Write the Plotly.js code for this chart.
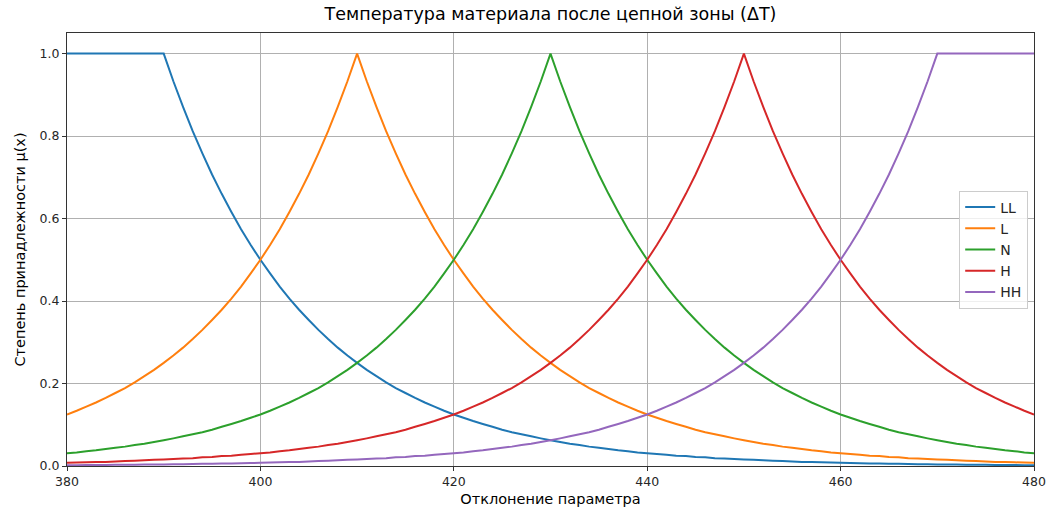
<!DOCTYPE html>
<html>
<head>
<meta charset="utf-8">
<script src="https://cdn.plot.ly/plotly-3.0.1.min.js"></script>
<style>html,body{margin:0;padding:0;background:#fff;}#chart{width:1051px;height:515px;}</style>
</head>
<body>
<div id="chart"></div>
<script>
// x positions (step 1)
const xValues = [380,381,382,383,384,385,386,387,388,389,390,391,392,393,394,395,396,397,398,399,
400,401,402,403,404,405,406,407,408,409,410,411,412,413,414,415,416,417,418,419,
420,421,422,423,424,425,426,427,428,429,430,431,432,433,434,435,436,437,438,439,
440,441,442,443,444,445,446,447,448,449,450,451,452,453,454,455,456,457,458,459,
460,461,462,463,464,465,466,467,468,469,470,471,472,473,474,475,476,477,478,479,480];

const seriesNames = ["LL","L","N","H","HH"];
const seriesColors = ["#1f77b4","#ff7f0e","#2ca02c","#d62728","#9467bd"];

const LL = [1,1,1,1,1,1,1,1,1,1,1,
0.933,0.871,0.812,0.758,0.707,0.660,0.616,0.574,0.536,0.5,
0.467,0.435,0.406,0.379,0.354,0.330,0.308,0.287,0.268,0.25,
0.233,0.218,0.203,0.189,0.177,0.165,0.154,0.144,0.134,0.125,
0.117,0.109,0.102,0.095,0.088,0.082,0.077,0.072,0.067,0.0625,
0.058,0.054,0.051,0.047,0.044,0.041,0.038,0.036,0.033,0.031,
0.029,0.027,0.025,0.024,0.022,0.021,0.019,0.018,0.017,0.016,
0.015,0.014,0.013,0.012,0.011,0.010,0.0096,0.009,0.0084,0.0078,
0.0073,0.0068,0.0063,0.0059,0.0055,0.0052,0.0048,0.0045,0.0042,0.0039,
0.0037,0.0034,0.0032,0.003,0.0028,0.0026,0.0024,0.0022,0.0021,0.002];

const L = [0.125,0.134,0.144,0.154,0.165,0.177,0.189,0.203,0.218,0.233,
0.25,0.268,0.287,0.308,0.330,0.354,0.379,0.406,0.435,0.467,
0.5,0.536,0.574,0.616,0.660,0.707,0.758,0.812,0.871,0.933,
1,
0.933,0.871,0.812,0.758,0.707,0.660,0.616,0.574,0.536,0.5,
0.467,0.435,0.406,0.379,0.354,0.330,0.308,0.287,0.268,0.25,
0.233,0.218,0.203,0.189,0.177,0.165,0.154,0.144,0.134,0.125,
0.117,0.109,0.102,0.095,0.088,0.082,0.077,0.072,0.067,0.0625,
0.058,0.054,0.051,0.047,0.044,0.041,0.038,0.036,0.033,0.031,
0.029,0.027,0.025,0.024,0.022,0.021,0.019,0.018,0.017,0.016,
0.015,0.014,0.013,0.012,0.011,0.010,0.0096,0.009,0.0084,0.0078];

const N = [0.031,0.033,0.036,0.038,0.041,0.044,0.047,0.051,0.054,0.058,
0.0625,0.067,0.072,0.077,0.082,0.088,0.095,0.102,0.109,0.117,
0.125,0.134,0.144,0.154,0.165,0.177,0.189,0.203,0.218,0.233,
0.25,0.268,0.287,0.308,0.330,0.354,0.379,0.406,0.435,0.467,
0.5,0.536,0.574,0.616,0.660,0.707,0.758,0.812,0.871,0.933,
1,
0.933,0.871,0.812,0.758,0.707,0.660,0.616,0.574,0.536,0.5,
0.467,0.435,0.406,0.379,0.354,0.330,0.308,0.287,0.268,0.25,
0.233,0.218,0.203,0.189,0.177,0.165,0.154,0.144,0.134,0.125,
0.117,0.109,0.102,0.095,0.088,0.082,0.077,0.072,0.067,0.0625,
0.058,0.054,0.051,0.047,0.044,0.041,0.038,0.036,0.033,0.031];

const H = [0.0078,0.0084,0.009,0.0096,0.010,0.011,0.012,0.013,0.014,0.015,
0.016,0.017,0.018,0.019,0.021,0.022,0.024,0.025,0.027,0.029,
0.031,0.033,0.036,0.038,0.041,0.044,0.047,0.051,0.054,0.058,
0.0625,0.067,0.072,0.077,0.082,0.088,0.095,0.102,0.109,0.117,
0.125,0.134,0.144,0.154,0.165,0.177,0.189,0.203,0.218,0.233,
0.25,0.268,0.287,0.308,0.330,0.354,0.379,0.406,0.435,0.467,
0.5,0.536,0.574,0.616,0.660,0.707,0.758,0.812,0.871,0.933,
1,
0.933,0.871,0.812,0.758,0.707,0.660,0.616,0.574,0.536,0.5,
0.467,0.435,0.406,0.379,0.354,0.330,0.308,0.287,0.268,0.25,
0.233,0.218,0.203,0.189,0.177,0.165,0.154,0.144,0.134,0.125];

const HH = [0.002,0.0021,0.0022,0.0024,0.0026,0.0028,0.003,0.0032,0.0034,0.0037,
0.0039,0.0042,0.0045,0.0048,0.0052,0.0055,0.0059,0.0063,0.0068,0.0073,
0.0078,0.0084,0.009,0.0096,0.010,0.011,0.012,0.013,0.014,0.015,
0.016,0.017,0.018,0.019,0.021,0.022,0.024,0.025,0.027,0.029,
0.031,0.033,0.036,0.038,0.041,0.044,0.047,0.051,0.054,0.058,
0.0625,0.067,0.072,0.077,0.082,0.088,0.095,0.102,0.109,0.117,
0.125,0.134,0.144,0.154,0.165,0.177,0.189,0.203,0.218,0.233,
0.25,0.268,0.287,0.308,0.330,0.354,0.379,0.406,0.435,0.467,
0.5,0.536,0.574,0.616,0.660,0.707,0.758,0.812,0.871,0.933,
1,1,1,1,1,1,1,1,1,1,1];

const xTicks = [380,400,420,440,460,480];
const yTicks = [0,0.2,0.4,0.6,0.8,1.0];
const yTickText = ["0.0","0.2","0.4","0.6","0.8","1.0"];

const seriesData = [LL,L,N,H,HH];
const traces = seriesData.map((ys,i)=>({
  x: xValues, y: ys, type:'scatter', mode:'lines', name: seriesNames[i],
  line:{color: seriesColors[i], width:2, simplify:false}
}));

const font = "DejaVu Sans, sans-serif";
const layout = {
  width:1051, height:515,
  margin:{l:67, r:17, t:33, b:49},
  paper_bgcolor:'#fff', plot_bgcolor:'#fff',
  font:{family:font, size:12, color:'#262626'},
  title:{text:'Температура материала после цепной зоны (ΔT)', font:{family:font, size:17.5, color:'#000'}, xref:'paper', x:0.5, xanchor:'center', yref:'container', y:1, yanchor:'top', pad:{t:8}},
  xaxis:{range:[380,480], tickvals:xTicks, ticks:'outside', ticklen:4, tickcolor:'#333', showgrid:true, gridcolor:'#b0b0b0', gridwidth:1, zeroline:false, showline:true, linecolor:'#333', mirror:true, linewidth:1,
    title:{text:'Отклонение параметра', font:{family:font, size:14.5, color:'#000'}, standoff:5}, tickfont:{size:12.5,color:'#262626'}},
  yaxis:{range:[0,1.05], tickvals:yTicks, ticktext:yTickText, ticks:'outside', ticklen:4, tickcolor:'#333', showgrid:true, gridcolor:'#b0b0b0', gridwidth:1, zeroline:false, showline:true, linecolor:'#333', mirror:true, linewidth:1,
    title:{text:'Степень принадлежности μ(x)', font:{family:font, size:14.5, color:'#000'}, standoff:10}, tickfont:{size:12.5,color:'#262626'}},
  legend:{x:0.994, xanchor:'right', y:0.5, yanchor:'middle', bgcolor:'rgba(255,255,255,0.8)', bordercolor:'#ccc', borderwidth:1, font:{size:14, color:'#262626'}, tracegroupgap:0},
  showlegend:true
};
Plotly.newPlot('chart', traces, layout, {displayModeBar:false, staticPlot:true});
</script>
</body>
</html>
